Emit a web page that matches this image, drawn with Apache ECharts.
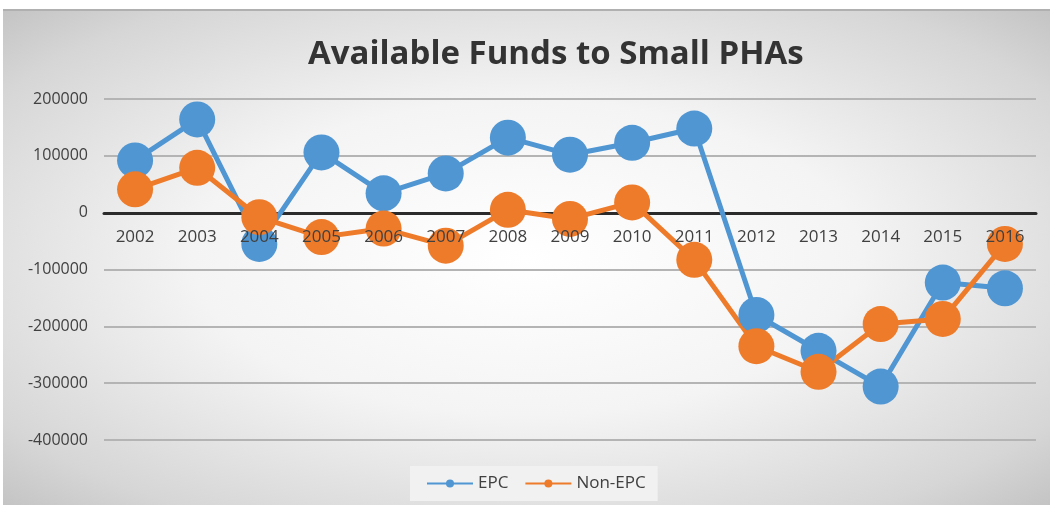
<!DOCTYPE html>
<html>
<head>
<meta charset="utf-8">
<script src="https://cdn.jsdelivr.net/npm/echarts@6/dist/echarts.min.js"></script>
<style>
  html, body { margin: 0; padding: 0; background: #fff; }
  #bg {
    position: absolute; left: 3px; top: 9px; width: 1047px; height: 496px;
    border-top: 2px solid #b0b0b0; box-sizing: border-box;
    background: radial-gradient(ellipse at center, #ffffff 0%, #f4f4f4 45%, #d6d6d6 85%, #c4c4c4 100%);
  }
  #chart { position: absolute; left: 0; top: 0; width: 1055px; height: 508px; }
</style>
</head>
<body>
<div id="bg"></div>
<div id="chart"></div>
<script>
// data
var years = ['2002', '2003', '2004', '2005', '2006', '2007', '2008', '2009',
  '2010', '2011', '2012', '2013', '2014', '2015', '2016'];
var epc = [92000, 164000, -55000, 106000, 34000, 69000, 132000, 102000,
  123000, 148000, -180000, -243000, -306000, -123000, -133000];
var nonEpc = [41000, 79000, -8000, -43000, -28000, -58000, 5000, -11000,
  18000, -83000, -235000, -280000, -196000, -187000, -55000];

var chart = echarts.init(document.getElementById('chart'));

function lineSeries(name, data, color) {
  return {
    name: name,
    type: 'line',
    data: data,
    symbol: 'circle',
    symbolSize: 36,
    lineStyle: { color: color, width: 5 },
    itemStyle: { color: color },
    emphasis: { disabled: true }
  };
}

var labelStyle = { fontFamily: 'Open Sans', fontSize: 17, color: '#404040', margin: 16 };

chart.setOption({
  backgroundColor: 'transparent',
  animation: false,
  title: {
    text: 'Available Funds to Small PHAs',
    left: 303,
    top: 33,
    textStyle: { fontFamily: 'Open Sans', fontWeight: 'bold', fontSize: 33, color: '#333' }
  },
  legend: {
    bottom: 7,
    left: 410,
    itemWidth: 46,
    itemHeight: 10,
    itemGap: 16,
    padding: [9, 12, 9, 16],
    backgroundColor: '#f1f1f1',
    textStyle: { fontFamily: 'Open Sans', fontSize: 17, color: '#404040' },
    data: ['EPC', 'Non-EPC']
  },
  grid: { left: 104, right: 19, top: 99, bottom: 68 },
  // both x axes are moved up onto the zero line; the 2nd only carries the labels, drawn over the markers
  xAxis: [{
    type: 'category',
    data: years,
    offset: -227,
    axisLine: { onZero: false, lineStyle: { color: '#2b2b2b', width: 3 } },
    axisTick: { show: false },
    axisLabel: { show: false }
  }, {
    type: 'category',
    data: years,
    position: 'bottom',
    offset: -227,
    z: 10,
    axisLine: { show: false, onZero: false },
    axisTick: { show: false },
    axisLabel: labelStyle
  }],
  yAxis: {
    type: 'value',
    min: -400000,
    max: 200000,
    interval: 100000,
    axisLine: { show: false },
    axisTick: { show: false },
    axisLabel: {
      fontFamily: 'Open Sans', fontSize: 16, color: '#404040', margin: 16,
      formatter: function (v) { return String(v); }
    },
    splitLine: { lineStyle: { color: '#b4b4b4', width: 2 } }
  },
  series: [
    lineSeries('EPC', epc, '#4f96d3'),
    lineSeries('Non-EPC', nonEpc, '#ee7b2a')
  ]
});
</script>
</body>
</html>
